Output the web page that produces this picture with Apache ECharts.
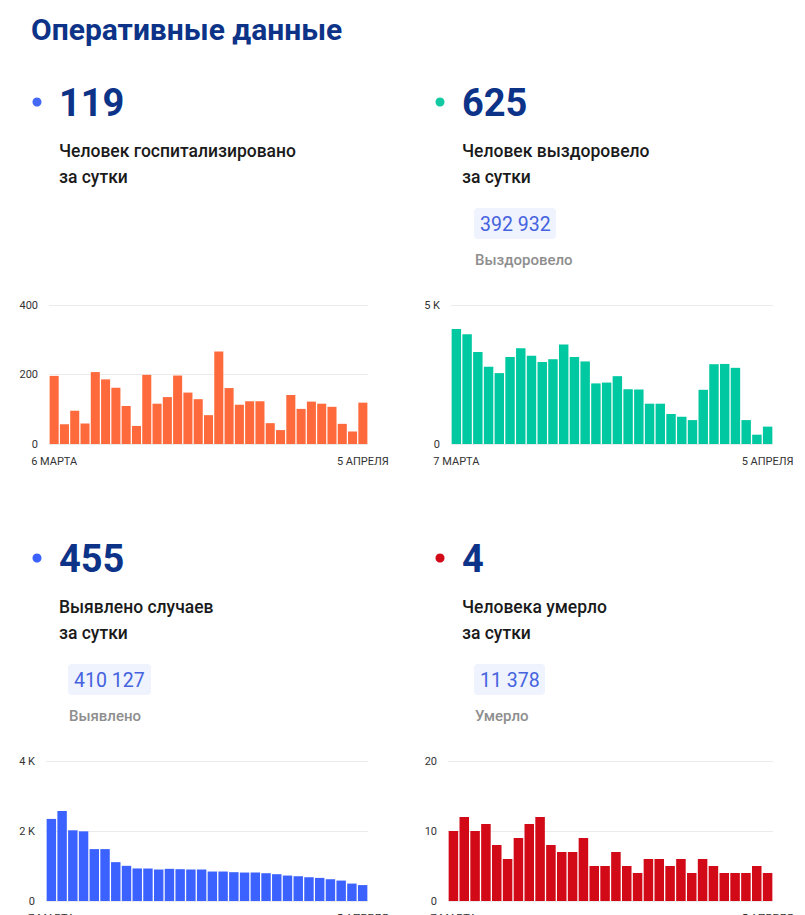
<!DOCTYPE html>
<html>
<head>
<meta charset="utf-8">
<script src="https://cdn.jsdelivr.net/npm/echarts@6/dist/echarts.min.js"></script>
<style>
html,body{margin:0;padding:0;background:#fff;}
#main{width:805px;height:915px;}
</style>
</head>
<body>
<div id="main"></div>
<script>
// ---- data ----
const datesHosp = ['6 МАРТА','7 МАРТА','8 МАРТА','9 МАРТА','10 МАРТА','11 МАРТА','12 МАРТА','13 МАРТА','14 МАРТА','15 МАРТА','16 МАРТА','17 МАРТА','18 МАРТА','19 МАРТА','20 МАРТА','21 МАРТА','22 МАРТА','23 МАРТА','24 МАРТА','25 МАРТА','26 МАРТА','27 МАРТА','28 МАРТА','29 МАРТА','30 МАРТА','31 МАРТА','1 АПРЕЛЯ','2 АПРЕЛЯ','3 АПРЕЛЯ','4 АПРЕЛЯ','5 АПРЕЛЯ'];
const datesOther = ['7 МАРТА','8 МАРТА','9 МАРТА','10 МАРТА','11 МАРТА','12 МАРТА','13 МАРТА','14 МАРТА','15 МАРТА','16 МАРТА','17 МАРТА','18 МАРТА','19 МАРТА','20 МАРТА','21 МАРТА','22 МАРТА','23 МАРТА','24 МАРТА','25 МАРТА','26 МАРТА','27 МАРТА','28 МАРТА','29 МАРТА','30 МАРТА','31 МАРТА','1 АПРЕЛЯ','2 АПРЕЛЯ','3 АПРЕЛЯ','4 АПРЕЛЯ','5 АПРЕЛЯ'];

const hospitalized = [196,57,96,59,207,186,162,109,52,199,116,135,197,148,129,83,266,161,113,123,123,60,40,141,101,122,116,107,58,36,119];
const recovered = [4140,3950,3310,2780,2550,3130,3440,3170,2950,3050,3580,3130,2970,2180,2210,2440,1970,1960,1450,1450,1080,980,860,1950,2870,2880,2740,860,335,625];
const cases = [2345,2574,2020,1990,1483,1483,1110,1005,930,928,900,919,909,900,900,842,842,823,813,813,794,766,727,708,679,660,622,584,498,455];
const deaths = [10,12,10,11,8,6,9,11,12,8,7,7,9,5,5,7,5,4,6,6,5,6,4,6,5,4,4,4,5,4];

const headlines = ['119','625','455','4'];
const captions1 = ['Человек госпитализировано','Человек выздоровело','Выявлено случаев','Человека умерло'];
const captionSecond = 'за сутки';
const totals = ['392 932','410 127','11 378'];
const totalLabels = ['Выздоровело','Выявлено','Умерло'];
const pageTitle = 'Оперативные данные';

// ---- styles ----
const FONT = 'Roboto, "Noto Sans", sans-serif';
const DARK = '#0c3387';
const colors = {hosp:'#ff6a3c', rec:'#00c8a0', cases:'#3b62ff', deaths:'#d20a18'};
const dotColors = ['#4469f5','#12c9a3','#3b62ff','#d20a18'];

const chart = echarts.init(document.getElementById('main'), null, {renderer:'svg'});

function txtM(x, y, text, size, weight, color) {
  return {type:'text', x:x, y:y, silent:true,
    style:{text:text, fontSize:size, fontWeight:weight, fill:color, fontFamily:FONT, textVerticalAlign:'middle', textAlign:'left'}};
}
function dot(cx, cy, color) {
  return {type:'circle', shape:{cx:cx, cy:cy, r:4.5}, style:{fill:color}, silent:true};
}
function badge(x, y, w, text, label) {
  return [
    {type:'rect', shape:{x:x, y:y, width:w, height:31, r:4}, style:{fill:'#eef3fd'}, silent:true},
    txtM(x+6, y+16, text, 19.5, 400, '#4562df'),
    txtM(x+1, y+52, label, 15, 500, '#8e8e8e')
  ];
}

const blocks = [
  {x:37, y:102},
  {x:440, y:102},
  {x:37, y:558},
  {x:440, y:558}
];

let graphics = [txtM(31, 29, pageTitle, 30, 700, DARK)];
blocks.forEach((b, i) => {
  graphics.push(dot(b.x, b.y, dotColors[i]));
  graphics.push(txtM(b.x + 22, b.y + 1, headlines[i], 38, 700, DARK));
  graphics.push(txtM(b.x + 22, b.y + 49, captions1[i], 17.5, 500, '#1a1a1a'));
  graphics.push(txtM(b.x + 22, b.y + 75, captionSecond, 17.5, 500, '#1a1a1a'));
});
graphics = graphics.concat(badge(474, 208, 82, totals[0], totalLabels[0]));
graphics = graphics.concat(badge(68, 664, 83, totals[1], totalLabels[1]));
graphics = graphics.concat(badge(474, 664, 71, totals[2], totalLabels[2]));

const grids = [
  {left:49, width:319, top:305, height:139, outerBoundsMode:'none', containLabel:false},
  {left:451, width:322, top:305, height:139, outerBoundsMode:'none', containLabel:false},
  {left:46, width:322, top:761, height:140, outerBoundsMode:'none', containLabel:false},
  {left:448, width:325, top:761, height:140, outerBoundsMode:'none', containLabel:false}
];
const seriesData = [hospitalized, recovered, cases, deaths];
const catsList = [datesHosp, datesOther, datesOther, datesOther];
const maxes = [400, 5000, 4000, 20];
const intervals = [200, 5000, 2000, 10];
const barColors = [colors.hosp, colors.rec, colors.cases, colors.deaths];

const xAxes = catsList.map((cats, i) => ({
  type:'category', gridIndex:i, data:cats,
  axisLine:{show:false}, axisTick:{show:false},
  axisLabel:{
    interval:(idx) => idx === 0 || idx === cats.length - 1,
    fontSize:11, color:'#333', fontFamily:FONT, margin:12,
    hideOverlap:false
  }
}));
const yAxes = maxes.map((m, i) => ({
  type:'value', gridIndex:i, min:0, max:m, interval:intervals[i],
  axisLine:{show:false}, axisTick:{show:false},
  splitLine:{lineStyle:{color:'#ebebeb', width:1}},
  axisLabel:{fontSize:11, color:'#333', fontFamily:FONT, margin:11,
    formatter:(v) => v >= 1000 ? (v/1000) + ' K' : String(v)}
}));
const series = seriesData.map((d, i) => ({
  type:'bar', xAxisIndex:i, yAxisIndex:i, data:d,
  barCategoryGap:'12%', itemStyle:{color:barColors[i]}, silent:true
}));

chart.setOption({
  animation:false,
  grid:grids,
  xAxis:xAxes,
  yAxis:yAxes,
  series:series,
  graphic:graphics
});
</script>
</body>
</html>
